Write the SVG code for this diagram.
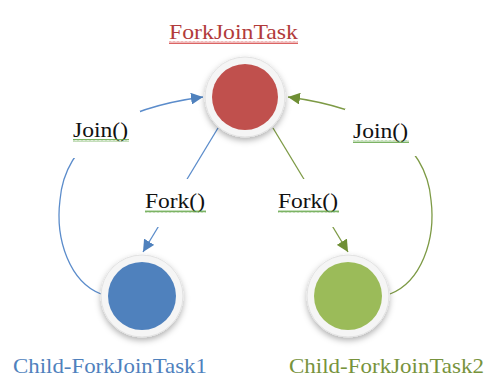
<svg xmlns="http://www.w3.org/2000/svg" width="486" height="380" viewBox="0 0 486 380">
<defs>
<style>
.lbl{font-size:20px;fill:#111}
.title{font-size:22px}
.ring{fill:#f5f5f5;stroke:#e2e2e2;stroke-width:1}
.conn{fill:none;stroke-width:1.3}
.blue{stroke:#5b8ccb}
.green{stroke:#7d9a45}
.bg{fill:#fff}
</style>
<filter id="sh" x="-30%" y="-30%" width="160%" height="170%">
<feDropShadow dx="0" dy="3" stdDeviation="3" flood-color="#000" flood-opacity="0.3"/>
</filter>
<marker id="ab" markerUnits="userSpaceOnUse" markerWidth="14" markerHeight="12" refX="12" refY="6" orient="auto">
<path d="M0,0 L12,6 L0,12 z" fill="#4f81bd"/>
</marker>
<marker id="ag" markerUnits="userSpaceOnUse" markerWidth="14" markerHeight="12" refX="12" refY="6" orient="auto">
<path d="M0,0 L12,6 L0,12 z" fill="#6f8f35"/>
</marker>
<pattern id="wg" width="4" height="3" patternUnits="userSpaceOnUse">
<polyline points="0,2.5 1,0.5 2,2.5 3,0.5 4,2.5" fill="none" stroke="#5aa03c" stroke-width="0.8"/>
</pattern>
<pattern id="wr" width="4" height="3" patternUnits="userSpaceOnUse">
<polyline points="0,2.5 1,0.5 2,2.5 3,0.5 4,2.5" fill="none" stroke="#d23c3c" stroke-width="0.8"/>
</pattern>
</defs>
<rect width="486" height="380" fill="#fff"/>

<g id="connectors">
<path id="join1" class="conn blue" d="M101,294 C70,282 55,240 60,200 C65,140 120,108 203,97" marker-end="url(#ab)"/>
<path id="fork1" class="conn blue" d="M218,128 L143,252" marker-end="url(#ab)"/>
<path id="fork2" class="conn green" d="M273,128 L348,252" marker-end="url(#ag)"/>
<path id="join2" class="conn green" d="M390,294 C421,282 436,240 431,200 C426,140 371,108 288,97" marker-end="url(#ag)"/>
</g>

<g id="label-join1">
<rect class="bg" x="62" y="111" width="78" height="47"/>
<text class="lbl" font-family="Liberation Serif, serif" x="73" y="137" textLength="55" lengthAdjust="spacingAndGlyphs">Join()</text>
<rect x="73" y="139" width="56" height="3" fill="url(#wg)"/>
</g>
<g id="label-fork1">
<rect class="bg" x="138" y="179" width="74" height="48"/>
<text class="lbl" font-family="Liberation Serif, serif" x="145" y="208" textLength="60" lengthAdjust="spacingAndGlyphs">Fork()</text>
<rect x="145" y="210" width="61" height="3" fill="url(#wg)"/>
</g>
<g id="label-fork2">
<rect class="bg" x="272" y="179" width="74" height="48"/>
<text class="lbl" font-family="Liberation Serif, serif" x="278" y="208" textLength="60" lengthAdjust="spacingAndGlyphs">Fork()</text>
<rect x="278" y="210" width="61" height="3" fill="url(#wg)"/>
</g>
<g id="label-join2">
<rect class="bg" x="345" y="109" width="78" height="47"/>
<text class="lbl" font-family="Liberation Serif, serif" x="353" y="138" textLength="55" lengthAdjust="spacingAndGlyphs">Join()</text>
<rect x="353" y="140" width="56" height="3" fill="url(#wg)"/>
</g>

<g id="node-parent">
<circle class="ring" cx="245" cy="97" r="40" filter="url(#sh)"/>
<circle cx="245" cy="97" r="33" fill="#c0504d"/>
<text class="title" font-family="Liberation Serif, serif" x="169" y="39" fill="#b23b3b" textLength="129" lengthAdjust="spacingAndGlyphs">ForkJoinTask</text>
<rect x="169" y="41" width="129" height="3" fill="url(#wr)"/>
</g>

<g id="node-child1">
<circle class="ring" cx="142" cy="296" r="41" filter="url(#sh)"/>
<circle cx="142" cy="296" r="34" fill="#4f81bd"/>
<text class="title" font-family="Liberation Serif, serif" x="13" y="373" fill="#4f81bd" textLength="194" lengthAdjust="spacingAndGlyphs">Child-ForkJoinTask1</text>
</g>

<g id="node-child2">
<circle class="ring" cx="348" cy="296" r="41" filter="url(#sh)"/>
<circle cx="348" cy="296" r="34" fill="#9bbb59"/>
<text class="title" font-family="Liberation Serif, serif" x="289" y="373" fill="#77933c" textLength="195" lengthAdjust="spacingAndGlyphs">Child-ForkJoinTask2</text>
</g>
</svg>
